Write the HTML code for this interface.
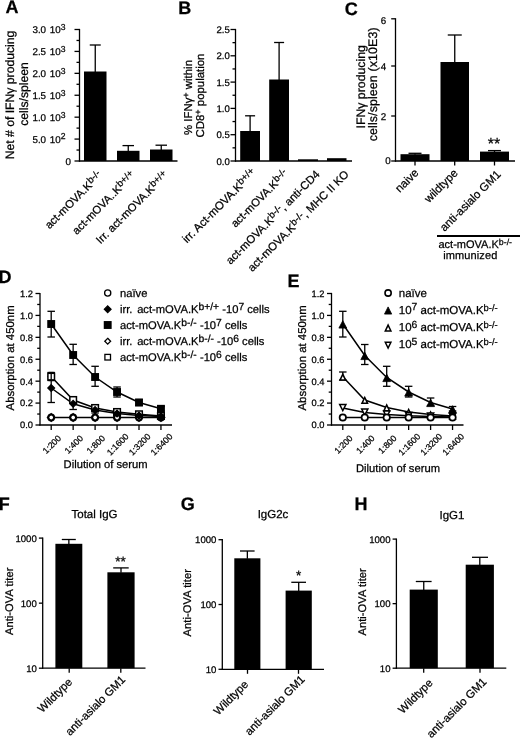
<!DOCTYPE html>
<html><head><meta charset="utf-8"><title>Figure</title>
<style>
html,body{margin:0;padding:0;background:#fff;}
body{width:520px;height:739px;overflow:hidden;font-family:"Liberation Sans",sans-serif;}
svg{display:block;will-change:transform;}
svg text{font-family:"Liberation Sans",sans-serif;fill:#000;text-rendering:geometricPrecision;stroke:#000;stroke-width:0.25px;}
</style></head><body>
<svg width="520" height="739" viewBox="0 0 520 739">
<rect x="0" y="0" width="520" height="739" fill="#fff"/>
<text x="5.50" y="12.70" font-size="18" text-anchor="start" font-weight="bold">A</text>
<line x1="79.50" y1="28.90" x2="79.50" y2="161.60" stroke="#000" stroke-width="1.3"/>
<line x1="78.90" y1="161.00" x2="177.50" y2="161.00" stroke="#000" stroke-width="1.3"/>
<line x1="74.50" y1="161.00" x2="79.50" y2="161.00" stroke="#000" stroke-width="1.3"/>
<line x1="76.50" y1="150.04" x2="79.50" y2="150.04" stroke="#000" stroke-width="1.3"/>
<text x="71.00" y="164.60" font-size="9.8" text-anchor="end">0</text>
<line x1="74.50" y1="139.08" x2="79.50" y2="139.08" stroke="#000" stroke-width="1.3"/>
<line x1="76.50" y1="128.12" x2="79.50" y2="128.12" stroke="#000" stroke-width="1.3"/>
<text x="65.50" y="142.68" font-size="9.8" text-anchor="end" word-spacing="1">5.0 10<tspan font-size="0.88em" dy="-3.2">2</tspan><tspan dy="3.2" font-size="1em">&#8203;</tspan></text>
<line x1="74.50" y1="117.17" x2="79.50" y2="117.17" stroke="#000" stroke-width="1.3"/>
<line x1="76.50" y1="106.21" x2="79.50" y2="106.21" stroke="#000" stroke-width="1.3"/>
<text x="65.50" y="120.77" font-size="9.8" text-anchor="end" word-spacing="1">1.0 10<tspan font-size="0.88em" dy="-3.2">3</tspan><tspan dy="3.2" font-size="1em">&#8203;</tspan></text>
<line x1="74.50" y1="95.25" x2="79.50" y2="95.25" stroke="#000" stroke-width="1.3"/>
<line x1="76.50" y1="84.29" x2="79.50" y2="84.29" stroke="#000" stroke-width="1.3"/>
<text x="65.50" y="98.85" font-size="9.8" text-anchor="end" word-spacing="1">1.5 10<tspan font-size="0.88em" dy="-3.2">3</tspan><tspan dy="3.2" font-size="1em">&#8203;</tspan></text>
<line x1="74.50" y1="73.33" x2="79.50" y2="73.33" stroke="#000" stroke-width="1.3"/>
<line x1="76.50" y1="62.37" x2="79.50" y2="62.37" stroke="#000" stroke-width="1.3"/>
<text x="65.50" y="76.93" font-size="9.8" text-anchor="end" word-spacing="1">2.0 10<tspan font-size="0.88em" dy="-3.2">3</tspan><tspan dy="3.2" font-size="1em">&#8203;</tspan></text>
<line x1="74.50" y1="51.42" x2="79.50" y2="51.42" stroke="#000" stroke-width="1.3"/>
<line x1="76.50" y1="40.46" x2="79.50" y2="40.46" stroke="#000" stroke-width="1.3"/>
<text x="65.50" y="55.02" font-size="9.8" text-anchor="end" word-spacing="1">2.5 10<tspan font-size="0.88em" dy="-3.2">3</tspan><tspan dy="3.2" font-size="1em">&#8203;</tspan></text>
<line x1="74.50" y1="29.50" x2="79.50" y2="29.50" stroke="#000" stroke-width="1.3"/>
<text x="65.50" y="33.10" font-size="9.8" text-anchor="end" word-spacing="1">3.0 10<tspan font-size="0.88em" dy="-3.2">3</tspan><tspan dy="3.2" font-size="1em">&#8203;</tspan></text>
<rect x="84.00" y="71.50" width="22.50" height="89.50" fill="#000"/>
<line x1="95.25" y1="45.00" x2="95.25" y2="72.00" stroke="#000" stroke-width="1.3"/>
<line x1="89.75" y1="45.00" x2="100.75" y2="45.00" stroke="#000" stroke-width="1.3"/>
<rect x="117.00" y="150.80" width="22.50" height="10.20" fill="#000"/>
<line x1="128.25" y1="145.60" x2="128.25" y2="151.30" stroke="#000" stroke-width="1.3"/>
<line x1="122.50" y1="145.60" x2="134.00" y2="145.60" stroke="#000" stroke-width="1.3"/>
<rect x="150.00" y="149.50" width="22.50" height="11.50" fill="#000"/>
<line x1="161.25" y1="145.20" x2="161.25" y2="150.00" stroke="#000" stroke-width="1.3"/>
<line x1="155.50" y1="145.20" x2="167.00" y2="145.20" stroke="#000" stroke-width="1.3"/>
<text x="13.50" y="95.00" font-size="12.2" text-anchor="middle" transform="rotate(-90 13.50 95.00)">Net # of IFN&#947; producing</text>
<text x="27.50" y="94.00" font-size="12.2" text-anchor="middle" transform="rotate(-90 27.50 94.00)">cells/spleen</text>
<text x="103.00" y="176.00" font-size="11.2" text-anchor="end" transform="rotate(-45 103.00 176.00)">act-mOVA.K<tspan font-size="0.86em" dy="-0.314em">b-/-</tspan><tspan dy="0.270em" font-size="1em">&#8203;</tspan></text>
<text x="136.00" y="176.00" font-size="11.2" text-anchor="end" transform="rotate(-45 136.00 176.00)">act-mOVA..K<tspan font-size="0.86em" dy="-0.314em">b+/+</tspan><tspan dy="0.270em" font-size="1em">&#8203;</tspan></text>
<text x="169.00" y="176.00" font-size="11.2" text-anchor="end" transform="rotate(-45 169.00 176.00)">Irr. act-mOVA.K<tspan font-size="0.86em" dy="-0.314em">b+/+</tspan><tspan dy="0.270em" font-size="1em">&#8203;</tspan></text>
<text x="178.30" y="14.10" font-size="18" text-anchor="start" font-weight="bold">B</text>
<line x1="235.50" y1="28.90" x2="235.50" y2="161.60" stroke="#000" stroke-width="1.3"/>
<line x1="234.90" y1="161.00" x2="352.00" y2="161.00" stroke="#000" stroke-width="1.3"/>
<line x1="230.50" y1="161.00" x2="235.50" y2="161.00" stroke="#000" stroke-width="1.3"/>
<line x1="232.50" y1="147.85" x2="235.50" y2="147.85" stroke="#000" stroke-width="1.3"/>
<text x="229.80" y="164.50" font-size="9.6" text-anchor="end">0.0</text>
<line x1="230.50" y1="134.70" x2="235.50" y2="134.70" stroke="#000" stroke-width="1.3"/>
<line x1="232.50" y1="121.55" x2="235.50" y2="121.55" stroke="#000" stroke-width="1.3"/>
<text x="229.80" y="138.20" font-size="9.6" text-anchor="end">0.5</text>
<line x1="230.50" y1="108.40" x2="235.50" y2="108.40" stroke="#000" stroke-width="1.3"/>
<line x1="232.50" y1="95.25" x2="235.50" y2="95.25" stroke="#000" stroke-width="1.3"/>
<text x="229.80" y="111.90" font-size="9.6" text-anchor="end">1.0</text>
<line x1="230.50" y1="82.10" x2="235.50" y2="82.10" stroke="#000" stroke-width="1.3"/>
<line x1="232.50" y1="68.95" x2="235.50" y2="68.95" stroke="#000" stroke-width="1.3"/>
<text x="229.80" y="85.60" font-size="9.6" text-anchor="end">1.5</text>
<line x1="230.50" y1="55.80" x2="235.50" y2="55.80" stroke="#000" stroke-width="1.3"/>
<line x1="232.50" y1="42.65" x2="235.50" y2="42.65" stroke="#000" stroke-width="1.3"/>
<text x="229.80" y="59.30" font-size="9.6" text-anchor="end">2.0</text>
<line x1="230.50" y1="29.50" x2="235.50" y2="29.50" stroke="#000" stroke-width="1.3"/>
<text x="229.80" y="33.00" font-size="9.6" text-anchor="end">2.5</text>
<rect x="240.20" y="131.00" width="19.80" height="30.00" fill="#000"/>
<line x1="250.10" y1="115.80" x2="250.10" y2="131.50" stroke="#000" stroke-width="1.3"/>
<line x1="245.10" y1="115.80" x2="255.10" y2="115.80" stroke="#000" stroke-width="1.3"/>
<rect x="269.20" y="79.50" width="19.80" height="81.50" fill="#000"/>
<line x1="279.10" y1="42.50" x2="279.10" y2="80.00" stroke="#000" stroke-width="1.3"/>
<line x1="274.10" y1="42.50" x2="284.10" y2="42.50" stroke="#000" stroke-width="1.3"/>
<rect x="298.00" y="159.30" width="20.00" height="1.70" fill="#000"/>
<rect x="327.00" y="158.20" width="19.50" height="2.80" fill="#000"/>
<text x="191.80" y="97.50" font-size="11.4" text-anchor="middle" transform="rotate(-90 191.80 97.50)">% IFN&#947;<tspan font-size="0.8em" dy="-0.338em">+</tspan><tspan dy="0.270em" font-size="1em">&#8203;</tspan> within</text>
<text x="204.20" y="95.50" font-size="11.4" text-anchor="middle" transform="rotate(-90 204.20 95.50)">CD8<tspan font-size="0.8em" dy="-0.338em">+</tspan><tspan dy="0.270em" font-size="1em">&#8203;</tspan> population</text>
<text x="257.00" y="173.50" font-size="11.45" text-anchor="end" transform="rotate(-45 257.00 173.50)">irr. Act-mOVA.K<tspan font-size="0.86em" dy="-0.314em">b+/+</tspan><tspan dy="0.270em" font-size="1em">&#8203;</tspan></text>
<text x="289.00" y="174.50" font-size="11.2" text-anchor="end" transform="rotate(-45 289.00 174.50)">act-mOVA.K<tspan font-size="0.86em" dy="-0.314em">b-/-</tspan><tspan dy="0.270em" font-size="1em">&#8203;</tspan></text>
<text x="320.50" y="175.00" font-size="11.3" text-anchor="end" transform="rotate(-45 320.50 175.00)">act-mOVA.K<tspan font-size="0.86em" dy="-0.314em">b-/-</tspan><tspan dy="0.270em" font-size="1em">&#8203;</tspan>, anti-CD4</text>
<text x="349.50" y="175.00" font-size="11.3" text-anchor="end" transform="rotate(-45 349.50 175.00)">act-mOVA.K<tspan font-size="0.86em" dy="-0.314em">b-/-</tspan><tspan dy="0.270em" font-size="1em">&#8203;</tspan>, MHC II KO</text>
<text x="344.80" y="14.80" font-size="18" text-anchor="start" font-weight="bold">C</text>
<line x1="395.50" y1="18.20" x2="395.50" y2="161.60" stroke="#000" stroke-width="1.3"/>
<line x1="394.90" y1="161.00" x2="515.00" y2="161.00" stroke="#000" stroke-width="1.3"/>
<line x1="391.20" y1="161.00" x2="395.50" y2="161.00" stroke="#000" stroke-width="1.3"/>
<text x="390.60" y="163.50" font-size="9.8" text-anchor="end">0</text>
<line x1="391.20" y1="116.00" x2="395.50" y2="116.00" stroke="#000" stroke-width="1.3"/>
<text x="386.30" y="119.50" font-size="9.8" text-anchor="end">2</text>
<line x1="391.20" y1="66.00" x2="395.50" y2="66.00" stroke="#000" stroke-width="1.3"/>
<text x="386.30" y="70.00" font-size="9.8" text-anchor="end">4</text>
<line x1="391.20" y1="18.80" x2="395.50" y2="18.80" stroke="#000" stroke-width="1.3"/>
<text x="386.30" y="24.40" font-size="9.8" text-anchor="end">6</text>
<line x1="415.00" y1="161.00" x2="415.00" y2="165.50" stroke="#000" stroke-width="1.3"/>
<line x1="454.70" y1="161.00" x2="454.70" y2="165.50" stroke="#000" stroke-width="1.3"/>
<line x1="494.50" y1="161.00" x2="494.50" y2="165.50" stroke="#000" stroke-width="1.3"/>
<rect x="400.50" y="154.20" width="29.00" height="6.80" fill="#000"/>
<line x1="415.00" y1="153.30" x2="415.00" y2="154.70" stroke="#000" stroke-width="1.3"/>
<line x1="408.50" y1="153.30" x2="421.50" y2="153.30" stroke="#000" stroke-width="1.3"/>
<rect x="440.50" y="62.00" width="28.50" height="99.00" fill="#000"/>
<line x1="454.75" y1="35.00" x2="454.75" y2="62.50" stroke="#000" stroke-width="1.3"/>
<line x1="447.75" y1="35.00" x2="461.75" y2="35.00" stroke="#000" stroke-width="1.3"/>
<rect x="480.00" y="151.60" width="29.00" height="9.40" fill="#000"/>
<line x1="494.50" y1="150.60" x2="494.50" y2="152.10" stroke="#000" stroke-width="1.3"/>
<line x1="488.00" y1="150.60" x2="501.00" y2="150.60" stroke="#000" stroke-width="1.3"/>
<text x="494.00" y="149.30" font-size="16" text-anchor="middle">**</text>
<text x="365.20" y="86.80" font-size="12.3" text-anchor="middle" transform="rotate(-90 365.20 86.80)">IFN&#947; producing</text>
<text x="376.60" y="84.30" font-size="12.4" text-anchor="middle" transform="rotate(-90 376.60 84.30)" letter-spacing="0.12">cells/spleen (x10E3)</text>
<text x="419.30" y="173.50" font-size="11.5" text-anchor="end" transform="rotate(-45 419.30 173.50)">naive</text>
<text x="458.50" y="173.80" font-size="11.5" text-anchor="end" transform="rotate(-45 458.50 173.80)">wildtype</text>
<text x="501.50" y="175.00" font-size="11.5" text-anchor="end" transform="rotate(-45 501.50 175.00)">anti-asialo GM1</text>
<line x1="437.00" y1="236.10" x2="520.00" y2="236.10" stroke="#000" stroke-width="2"/>
<text x="438.50" y="247.90" font-size="11" text-anchor="start">act-mOVA.K<tspan font-size="0.8em" dy="-0.338em">b-/-</tspan><tspan dy="0.270em" font-size="1em">&#8203;</tspan></text>
<text x="443.30" y="258.60" font-size="11" text-anchor="start" letter-spacing="0.1">immunized</text>
<text x="-1.50" y="283.00" font-size="18" text-anchor="start" font-weight="bold">D</text>
<line x1="40.00" y1="292.90" x2="40.00" y2="425.60" stroke="#000" stroke-width="1.3"/>
<line x1="39.40" y1="425.00" x2="172.00" y2="425.00" stroke="#000" stroke-width="1.3"/>
<line x1="35.50" y1="425.00" x2="40.00" y2="425.00" stroke="#000" stroke-width="1.3"/>
<line x1="37.20" y1="414.04" x2="40.00" y2="414.04" stroke="#000" stroke-width="1.3"/>
<text x="33.00" y="428.40" font-size="9.3" text-anchor="end">0.0</text>
<line x1="35.50" y1="403.08" x2="40.00" y2="403.08" stroke="#000" stroke-width="1.3"/>
<line x1="37.20" y1="392.12" x2="40.00" y2="392.12" stroke="#000" stroke-width="1.3"/>
<text x="33.00" y="406.48" font-size="9.3" text-anchor="end">0.2</text>
<line x1="35.50" y1="381.17" x2="40.00" y2="381.17" stroke="#000" stroke-width="1.3"/>
<line x1="37.20" y1="370.21" x2="40.00" y2="370.21" stroke="#000" stroke-width="1.3"/>
<text x="33.00" y="384.57" font-size="9.3" text-anchor="end">0.4</text>
<line x1="35.50" y1="359.25" x2="40.00" y2="359.25" stroke="#000" stroke-width="1.3"/>
<line x1="37.20" y1="348.29" x2="40.00" y2="348.29" stroke="#000" stroke-width="1.3"/>
<text x="33.00" y="362.65" font-size="9.3" text-anchor="end">0.6</text>
<line x1="35.50" y1="337.33" x2="40.00" y2="337.33" stroke="#000" stroke-width="1.3"/>
<line x1="37.20" y1="326.38" x2="40.00" y2="326.38" stroke="#000" stroke-width="1.3"/>
<text x="33.00" y="340.73" font-size="9.3" text-anchor="end">0.8</text>
<line x1="35.50" y1="315.42" x2="40.00" y2="315.42" stroke="#000" stroke-width="1.3"/>
<line x1="37.20" y1="304.46" x2="40.00" y2="304.46" stroke="#000" stroke-width="1.3"/>
<text x="33.00" y="318.82" font-size="9.3" text-anchor="end">1.0</text>
<line x1="35.50" y1="293.50" x2="40.00" y2="293.50" stroke="#000" stroke-width="1.3"/>
<text x="33.00" y="296.90" font-size="9.3" text-anchor="end">1.2</text>
<line x1="51.20" y1="425.00" x2="51.20" y2="430.00" stroke="#000" stroke-width="1.3"/>
<text x="54.00" y="446.50" font-size="8.7" text-anchor="middle" transform="rotate(-45 54.00 446.50)">1:200</text>
<line x1="73.15" y1="425.00" x2="73.15" y2="430.00" stroke="#000" stroke-width="1.3"/>
<text x="75.95" y="446.50" font-size="8.7" text-anchor="middle" transform="rotate(-45 75.95 446.50)">1:400</text>
<line x1="95.10" y1="425.00" x2="95.10" y2="430.00" stroke="#000" stroke-width="1.3"/>
<text x="97.90" y="446.50" font-size="8.7" text-anchor="middle" transform="rotate(-45 97.90 446.50)">1:800</text>
<line x1="117.05" y1="425.00" x2="117.05" y2="430.00" stroke="#000" stroke-width="1.3"/>
<text x="119.85" y="446.50" font-size="8.7" text-anchor="middle" transform="rotate(-45 119.85 446.50)">1:1600</text>
<line x1="139.00" y1="425.00" x2="139.00" y2="430.00" stroke="#000" stroke-width="1.3"/>
<text x="141.80" y="446.50" font-size="8.7" text-anchor="middle" transform="rotate(-45 141.80 446.50)">1:3200</text>
<line x1="160.95" y1="425.00" x2="160.95" y2="430.00" stroke="#000" stroke-width="1.3"/>
<text x="163.75" y="446.50" font-size="8.7" text-anchor="middle" transform="rotate(-45 163.75 446.50)">1:6400</text>
<text x="13.70" y="357.90" font-size="11.4" text-anchor="middle" transform="rotate(-90 13.70 357.90)">Absorption at 450nm</text>
<text x="105.60" y="468.30" font-size="11.2" text-anchor="middle">Dilution of serum</text>
<line x1="51.20" y1="311.30" x2="51.20" y2="337.00" stroke="#000" stroke-width="1.3"/>
<line x1="47.45" y1="311.30" x2="54.95" y2="311.30" stroke="#000" stroke-width="1.3"/>
<line x1="47.45" y1="337.00" x2="54.95" y2="337.00" stroke="#000" stroke-width="1.3"/>
<line x1="73.15" y1="344.30" x2="73.15" y2="364.50" stroke="#000" stroke-width="1.3"/>
<line x1="69.40" y1="344.30" x2="76.90" y2="344.30" stroke="#000" stroke-width="1.3"/>
<line x1="69.40" y1="364.50" x2="76.90" y2="364.50" stroke="#000" stroke-width="1.3"/>
<line x1="95.10" y1="366.30" x2="95.10" y2="386.30" stroke="#000" stroke-width="1.3"/>
<line x1="91.35" y1="366.30" x2="98.85" y2="366.30" stroke="#000" stroke-width="1.3"/>
<line x1="91.35" y1="386.30" x2="98.85" y2="386.30" stroke="#000" stroke-width="1.3"/>
<line x1="117.05" y1="387.00" x2="117.05" y2="397.00" stroke="#000" stroke-width="1.3"/>
<line x1="113.30" y1="387.00" x2="120.80" y2="387.00" stroke="#000" stroke-width="1.3"/>
<line x1="113.30" y1="397.00" x2="120.80" y2="397.00" stroke="#000" stroke-width="1.3"/>
<line x1="139.00" y1="399.50" x2="139.00" y2="405.50" stroke="#000" stroke-width="1.3"/>
<line x1="135.25" y1="399.50" x2="142.75" y2="399.50" stroke="#000" stroke-width="1.3"/>
<line x1="135.25" y1="405.50" x2="142.75" y2="405.50" stroke="#000" stroke-width="1.3"/>
<line x1="160.95" y1="406.50" x2="160.95" y2="411.00" stroke="#000" stroke-width="1.3"/>
<line x1="157.20" y1="406.50" x2="164.70" y2="406.50" stroke="#000" stroke-width="1.3"/>
<line x1="157.20" y1="411.00" x2="164.70" y2="411.00" stroke="#000" stroke-width="1.3"/>
<line x1="51.20" y1="376.50" x2="51.20" y2="402.50" stroke="#000" stroke-width="1.3"/>
<line x1="47.45" y1="376.50" x2="54.95" y2="376.50" stroke="#000" stroke-width="1.3"/>
<line x1="47.45" y1="402.50" x2="54.95" y2="402.50" stroke="#000" stroke-width="1.3"/>
<line x1="73.15" y1="398.80" x2="73.15" y2="409.50" stroke="#000" stroke-width="1.3"/>
<line x1="69.40" y1="398.80" x2="76.90" y2="398.80" stroke="#000" stroke-width="1.3"/>
<line x1="69.40" y1="409.50" x2="76.90" y2="409.50" stroke="#000" stroke-width="1.3"/>
<line x1="95.10" y1="407.00" x2="95.10" y2="413.00" stroke="#000" stroke-width="1.3"/>
<line x1="91.35" y1="407.00" x2="98.85" y2="407.00" stroke="#000" stroke-width="1.3"/>
<line x1="91.35" y1="413.00" x2="98.85" y2="413.00" stroke="#000" stroke-width="1.3"/>
<line x1="51.20" y1="372.50" x2="51.20" y2="380.50" stroke="#000" stroke-width="1.3"/>
<line x1="47.45" y1="372.50" x2="54.95" y2="372.50" stroke="#000" stroke-width="1.3"/>
<line x1="47.45" y1="380.50" x2="54.95" y2="380.50" stroke="#000" stroke-width="1.3"/>
<polyline points="51.20,417.50 73.15,417.50 95.10,417.50 117.05,417.50 139.00,417.50 160.95,417.50" fill="none" stroke="#000" stroke-width="1.5"/>
<polyline points="51.20,388.00 73.15,403.80 95.10,410.00 117.05,413.50 139.00,415.50 160.95,416.50" fill="none" stroke="#000" stroke-width="1.5"/>
<polyline points="51.20,376.60 73.15,400.00 95.10,408.00 117.05,412.00 139.00,414.30 160.95,416.00" fill="none" stroke="#000" stroke-width="1.5"/>
<polyline points="51.20,324.00 73.15,355.00 95.10,377.00 117.05,392.00 139.00,402.50 160.95,408.80" fill="none" stroke="#000" stroke-width="1.5"/>
<rect x="47.90" y="373.30" width="6.6" height="6.6" fill="#fff" stroke="#000" stroke-width="1.5"/>
<rect x="69.85" y="396.70" width="6.6" height="6.6" fill="#fff" stroke="#000" stroke-width="1.5"/>
<rect x="91.80" y="404.70" width="6.6" height="6.6" fill="#fff" stroke="#000" stroke-width="1.5"/>
<rect x="113.75" y="408.70" width="6.6" height="6.6" fill="#fff" stroke="#000" stroke-width="1.5"/>
<rect x="135.70" y="411.00" width="6.6" height="6.6" fill="#fff" stroke="#000" stroke-width="1.5"/>
<rect x="157.65" y="412.70" width="6.6" height="6.6" fill="#fff" stroke="#000" stroke-width="1.5"/>
<line x1="51.20" y1="372.50" x2="51.20" y2="380.50" stroke="#000" stroke-width="1.3"/>
<line x1="48.70" y1="372.50" x2="53.70" y2="372.50" stroke="#000" stroke-width="1.3"/>
<line x1="48.70" y1="380.50" x2="53.70" y2="380.50" stroke="#000" stroke-width="1.3"/>
<polygon points="51.20,413.80 54.90,417.50 51.20,421.20 47.50,417.50" fill="#fff" stroke="#000" stroke-width="1.4"/>
<polygon points="73.15,413.80 76.85,417.50 73.15,421.20 69.45,417.50" fill="#fff" stroke="#000" stroke-width="1.4"/>
<polygon points="95.10,413.80 98.80,417.50 95.10,421.20 91.40,417.50" fill="#fff" stroke="#000" stroke-width="1.4"/>
<polygon points="117.05,413.80 120.75,417.50 117.05,421.20 113.35,417.50" fill="#fff" stroke="#000" stroke-width="1.4"/>
<polygon points="139.00,413.80 142.70,417.50 139.00,421.20 135.30,417.50" fill="#fff" stroke="#000" stroke-width="1.4"/>
<polygon points="160.95,413.80 164.65,417.50 160.95,421.20 157.25,417.50" fill="#fff" stroke="#000" stroke-width="1.4"/>
<rect x="47.25" y="320.05" width="7.9" height="7.9" fill="#000"/>
<rect x="69.20" y="351.05" width="7.9" height="7.9" fill="#000"/>
<rect x="91.15" y="373.05" width="7.9" height="7.9" fill="#000"/>
<rect x="113.10" y="388.05" width="7.9" height="7.9" fill="#000"/>
<rect x="135.05" y="398.55" width="7.9" height="7.9" fill="#000"/>
<rect x="157.00" y="404.85" width="7.9" height="7.9" fill="#000"/>
<polygon points="51.20,384.60 54.60,388.00 51.20,391.40 47.80,388.00" fill="#000" stroke="#000" stroke-width="1.2"/>
<polygon points="73.15,400.40 76.55,403.80 73.15,407.20 69.75,403.80" fill="#000" stroke="#000" stroke-width="1.2"/>
<polygon points="95.10,406.60 98.50,410.00 95.10,413.40 91.70,410.00" fill="#000" stroke="#000" stroke-width="1.2"/>
<polygon points="117.05,410.10 120.45,413.50 117.05,416.90 113.65,413.50" fill="#000" stroke="#000" stroke-width="1.2"/>
<polygon points="139.00,412.10 142.40,415.50 139.00,418.90 135.60,415.50" fill="#000" stroke="#000" stroke-width="1.2"/>
<polygon points="160.95,413.10 164.35,416.50 160.95,419.90 157.55,416.50" fill="#000" stroke="#000" stroke-width="1.2"/>
<circle cx="51.20" cy="417.50" r="2.9" fill="none" stroke="#000" stroke-width="2.0"/>
<circle cx="73.15" cy="417.50" r="2.9" fill="none" stroke="#000" stroke-width="2.0"/>
<circle cx="95.10" cy="417.50" r="2.9" fill="none" stroke="#000" stroke-width="2.0"/>
<circle cx="117.05" cy="417.50" r="2.9" fill="none" stroke="#000" stroke-width="2.0"/>
<circle cx="139.00" cy="417.50" r="2.9" fill="none" stroke="#000" stroke-width="2.0"/>
<circle cx="160.95" cy="417.50" r="2.9" fill="none" stroke="#000" stroke-width="2.0"/>
<circle cx="107.70" cy="293.00" r="3.1" fill="#fff" stroke="#000" stroke-width="1.3"/>
<text x="120.00" y="296.60" font-size="11.2" text-anchor="start">na&#239;ve</text>
<polygon points="107.70,305.80 111.10,309.20 107.70,312.60 104.30,309.20" fill="#000" stroke="#000" stroke-width="1.2"/>
<text x="120.00" y="313.00" font-size="11.2" text-anchor="start"><tspan word-spacing="1.6">irr. </tspan>act-mOVA.K<tspan font-size="0.92em" dy="-0.304em">b+/+</tspan><tspan dy="0.280em" font-size="1em">&#8203;</tspan> -10<tspan font-size="0.92em" dy="-0.304em">7</tspan><tspan dy="0.280em" font-size="1em">&#8203;</tspan> cells</text>
<rect x="103.75" y="321.05" width="7.9" height="7.9" fill="#000"/>
<text x="120.00" y="328.80" font-size="11.2" text-anchor="start">act-mOVA.K<tspan font-size="0.92em" dy="-0.304em">b-/-</tspan><tspan dy="0.280em" font-size="1em">&#8203;</tspan> -10<tspan font-size="0.92em" dy="-0.304em">7</tspan><tspan dy="0.280em" font-size="1em">&#8203;</tspan> cells</text>
<polygon points="107.70,338.30 110.60,341.20 107.70,344.10 104.80,341.20" fill="#fff" stroke="#000" stroke-width="1.3"/>
<text x="120.00" y="345.00" font-size="11.2" text-anchor="start"><tspan word-spacing="1.6">irr. </tspan>act-mOVA.K<tspan font-size="0.92em" dy="-0.304em">b-/-</tspan><tspan dy="0.280em" font-size="1em">&#8203;</tspan> -10<tspan font-size="0.92em" dy="-0.304em">6</tspan><tspan dy="0.280em" font-size="1em">&#8203;</tspan> cells</text>
<rect x="104.90" y="354.40" width="5.6" height="5.6" fill="#fff" stroke="#000" stroke-width="1.3"/>
<text x="120.00" y="361.20" font-size="11.2" text-anchor="start">act-mOVA.K<tspan font-size="0.92em" dy="-0.304em">b-/-</tspan><tspan dy="0.280em" font-size="1em">&#8203;</tspan> -10<tspan font-size="0.92em" dy="-0.304em">6</tspan><tspan dy="0.280em" font-size="1em">&#8203;</tspan> cells</text>
<text x="287.50" y="287.00" font-size="18" text-anchor="start" font-weight="bold">E</text>
<line x1="331.50" y1="292.90" x2="331.50" y2="425.60" stroke="#000" stroke-width="1.3"/>
<line x1="330.90" y1="425.00" x2="463.50" y2="425.00" stroke="#000" stroke-width="1.3"/>
<line x1="327.00" y1="425.00" x2="331.50" y2="425.00" stroke="#000" stroke-width="1.3"/>
<line x1="328.70" y1="414.04" x2="331.50" y2="414.04" stroke="#000" stroke-width="1.3"/>
<text x="324.50" y="428.40" font-size="9.3" text-anchor="end">0.0</text>
<line x1="327.00" y1="403.08" x2="331.50" y2="403.08" stroke="#000" stroke-width="1.3"/>
<line x1="328.70" y1="392.12" x2="331.50" y2="392.12" stroke="#000" stroke-width="1.3"/>
<text x="324.50" y="406.48" font-size="9.3" text-anchor="end">0.2</text>
<line x1="327.00" y1="381.17" x2="331.50" y2="381.17" stroke="#000" stroke-width="1.3"/>
<line x1="328.70" y1="370.21" x2="331.50" y2="370.21" stroke="#000" stroke-width="1.3"/>
<text x="324.50" y="384.57" font-size="9.3" text-anchor="end">0.4</text>
<line x1="327.00" y1="359.25" x2="331.50" y2="359.25" stroke="#000" stroke-width="1.3"/>
<line x1="328.70" y1="348.29" x2="331.50" y2="348.29" stroke="#000" stroke-width="1.3"/>
<text x="324.50" y="362.65" font-size="9.3" text-anchor="end">0.6</text>
<line x1="327.00" y1="337.33" x2="331.50" y2="337.33" stroke="#000" stroke-width="1.3"/>
<line x1="328.70" y1="326.38" x2="331.50" y2="326.38" stroke="#000" stroke-width="1.3"/>
<text x="324.50" y="340.73" font-size="9.3" text-anchor="end">0.8</text>
<line x1="327.00" y1="315.42" x2="331.50" y2="315.42" stroke="#000" stroke-width="1.3"/>
<line x1="328.70" y1="304.46" x2="331.50" y2="304.46" stroke="#000" stroke-width="1.3"/>
<text x="324.50" y="318.82" font-size="9.3" text-anchor="end">1.0</text>
<line x1="327.00" y1="293.50" x2="331.50" y2="293.50" stroke="#000" stroke-width="1.3"/>
<text x="324.50" y="296.90" font-size="9.3" text-anchor="end">1.2</text>
<line x1="342.80" y1="425.00" x2="342.80" y2="430.00" stroke="#000" stroke-width="1.3"/>
<text x="345.60" y="446.50" font-size="8.7" text-anchor="middle" transform="rotate(-45 345.60 446.50)">1:200</text>
<line x1="364.75" y1="425.00" x2="364.75" y2="430.00" stroke="#000" stroke-width="1.3"/>
<text x="367.55" y="446.50" font-size="8.7" text-anchor="middle" transform="rotate(-45 367.55 446.50)">1:400</text>
<line x1="386.70" y1="425.00" x2="386.70" y2="430.00" stroke="#000" stroke-width="1.3"/>
<text x="389.50" y="446.50" font-size="8.7" text-anchor="middle" transform="rotate(-45 389.50 446.50)">1:800</text>
<line x1="408.65" y1="425.00" x2="408.65" y2="430.00" stroke="#000" stroke-width="1.3"/>
<text x="411.45" y="446.50" font-size="8.7" text-anchor="middle" transform="rotate(-45 411.45 446.50)">1:1600</text>
<line x1="430.60" y1="425.00" x2="430.60" y2="430.00" stroke="#000" stroke-width="1.3"/>
<text x="433.40" y="446.50" font-size="8.7" text-anchor="middle" transform="rotate(-45 433.40 446.50)">1:3200</text>
<line x1="452.55" y1="425.00" x2="452.55" y2="430.00" stroke="#000" stroke-width="1.3"/>
<text x="455.35" y="446.50" font-size="8.7" text-anchor="middle" transform="rotate(-45 455.35 446.50)">1:6400</text>
<text x="305.70" y="357.90" font-size="11.4" text-anchor="middle" transform="rotate(-90 305.70 357.90)">Absorption at 450nm</text>
<text x="398.00" y="472.40" font-size="11.2" text-anchor="middle">Dilution of serum</text>
<line x1="342.80" y1="311.30" x2="342.80" y2="337.00" stroke="#000" stroke-width="1.3"/>
<line x1="339.05" y1="311.30" x2="346.55" y2="311.30" stroke="#000" stroke-width="1.3"/>
<line x1="339.05" y1="337.00" x2="346.55" y2="337.00" stroke="#000" stroke-width="1.3"/>
<line x1="364.75" y1="344.50" x2="364.75" y2="364.50" stroke="#000" stroke-width="1.3"/>
<line x1="361.00" y1="344.50" x2="368.50" y2="344.50" stroke="#000" stroke-width="1.3"/>
<line x1="361.00" y1="364.50" x2="368.50" y2="364.50" stroke="#000" stroke-width="1.3"/>
<line x1="386.70" y1="366.30" x2="386.70" y2="386.30" stroke="#000" stroke-width="1.3"/>
<line x1="382.95" y1="366.30" x2="390.45" y2="366.30" stroke="#000" stroke-width="1.3"/>
<line x1="382.95" y1="386.30" x2="390.45" y2="386.30" stroke="#000" stroke-width="1.3"/>
<line x1="408.65" y1="386.30" x2="408.65" y2="397.00" stroke="#000" stroke-width="1.3"/>
<line x1="404.90" y1="386.30" x2="412.40" y2="386.30" stroke="#000" stroke-width="1.3"/>
<line x1="404.90" y1="397.00" x2="412.40" y2="397.00" stroke="#000" stroke-width="1.3"/>
<line x1="430.60" y1="398.00" x2="430.60" y2="405.50" stroke="#000" stroke-width="1.3"/>
<line x1="426.85" y1="398.00" x2="434.35" y2="398.00" stroke="#000" stroke-width="1.3"/>
<line x1="426.85" y1="405.50" x2="434.35" y2="405.50" stroke="#000" stroke-width="1.3"/>
<line x1="452.55" y1="406.50" x2="452.55" y2="411.00" stroke="#000" stroke-width="1.3"/>
<line x1="448.80" y1="406.50" x2="456.30" y2="406.50" stroke="#000" stroke-width="1.3"/>
<line x1="448.80" y1="411.00" x2="456.30" y2="411.00" stroke="#000" stroke-width="1.3"/>
<line x1="342.80" y1="372.00" x2="342.80" y2="380.00" stroke="#000" stroke-width="1.3"/>
<line x1="339.05" y1="372.00" x2="346.55" y2="372.00" stroke="#000" stroke-width="1.3"/>
<line x1="339.05" y1="380.00" x2="346.55" y2="380.00" stroke="#000" stroke-width="1.3"/>
<polyline points="342.80,417.50 364.75,417.50 386.70,417.50 408.65,417.50 430.60,417.50 452.55,417.50" fill="none" stroke="#000" stroke-width="1.5"/>
<polyline points="342.80,408.00 364.75,412.50 386.70,414.50 408.65,415.80 430.60,416.50 452.55,417.00" fill="none" stroke="#000" stroke-width="1.5"/>
<polyline points="342.80,376.80 364.75,400.00 386.70,407.50 408.65,412.00 430.60,414.50 452.55,416.00" fill="none" stroke="#000" stroke-width="1.5"/>
<polyline points="342.80,324.00 364.75,355.50 386.70,377.50 408.65,392.00 430.60,402.50 452.55,409.00" fill="none" stroke="#000" stroke-width="1.5"/>
<polygon points="340.00,380.10 345.60,380.10 342.80,374.30" fill="#fff" stroke="#000" stroke-width="1.5" stroke-linejoin="miter"/>
<polygon points="361.95,403.30 367.55,403.30 364.75,397.50" fill="#fff" stroke="#000" stroke-width="1.5" stroke-linejoin="miter"/>
<polygon points="383.90,410.80 389.50,410.80 386.70,405.00" fill="#fff" stroke="#000" stroke-width="1.5" stroke-linejoin="miter"/>
<polygon points="405.85,415.30 411.45,415.30 408.65,409.50" fill="#fff" stroke="#000" stroke-width="1.5" stroke-linejoin="miter"/>
<polygon points="427.80,417.80 433.40,417.80 430.60,412.00" fill="#fff" stroke="#000" stroke-width="1.5" stroke-linejoin="miter"/>
<polygon points="449.75,419.30 455.35,419.30 452.55,413.50" fill="#fff" stroke="#000" stroke-width="1.5" stroke-linejoin="miter"/>
<polygon points="339.70,404.60 345.90,404.60 342.80,410.60" fill="#fff" stroke="#000" stroke-width="1.5" stroke-linejoin="miter"/>
<polygon points="361.65,409.10 367.85,409.10 364.75,415.10" fill="#fff" stroke="#000" stroke-width="1.5" stroke-linejoin="miter"/>
<polygon points="383.60,411.10 389.80,411.10 386.70,417.10" fill="#fff" stroke="#000" stroke-width="1.5" stroke-linejoin="miter"/>
<polygon points="405.55,412.40 411.75,412.40 408.65,418.40" fill="#fff" stroke="#000" stroke-width="1.5" stroke-linejoin="miter"/>
<polygon points="427.50,413.10 433.70,413.10 430.60,419.10" fill="#fff" stroke="#000" stroke-width="1.5" stroke-linejoin="miter"/>
<polygon points="449.45,413.60 455.65,413.60 452.55,419.60" fill="#fff" stroke="#000" stroke-width="1.5" stroke-linejoin="miter"/>
<polygon points="338.90,328.10 346.70,328.10 342.80,320.70" fill="#000" stroke="#000" stroke-width="0.8" stroke-linejoin="miter"/>
<polygon points="360.85,359.60 368.65,359.60 364.75,352.20" fill="#000" stroke="#000" stroke-width="0.8" stroke-linejoin="miter"/>
<polygon points="382.80,381.60 390.60,381.60 386.70,374.20" fill="#000" stroke="#000" stroke-width="0.8" stroke-linejoin="miter"/>
<polygon points="404.75,396.10 412.55,396.10 408.65,388.70" fill="#000" stroke="#000" stroke-width="0.8" stroke-linejoin="miter"/>
<polygon points="426.70,406.60 434.50,406.60 430.60,399.20" fill="#000" stroke="#000" stroke-width="0.8" stroke-linejoin="miter"/>
<polygon points="448.65,413.10 456.45,413.10 452.55,405.70" fill="#000" stroke="#000" stroke-width="0.8" stroke-linejoin="miter"/>
<circle cx="342.80" cy="417.50" r="3.2" fill="#fff" stroke="#000" stroke-width="1.7"/>
<circle cx="364.75" cy="417.50" r="3.2" fill="#fff" stroke="#000" stroke-width="1.7"/>
<circle cx="386.70" cy="417.50" r="3.2" fill="#fff" stroke="#000" stroke-width="1.7"/>
<circle cx="408.65" cy="417.50" r="3.2" fill="#fff" stroke="#000" stroke-width="1.7"/>
<circle cx="430.60" cy="417.50" r="3.2" fill="#fff" stroke="#000" stroke-width="1.7"/>
<circle cx="452.55" cy="417.50" r="3.2" fill="#fff" stroke="#000" stroke-width="1.7"/>
<circle cx="388.10" cy="293.00" r="3.1" fill="#fff" stroke="#000" stroke-width="1.6"/>
<text x="398.80" y="296.60" font-size="11.5" text-anchor="start">na&#239;ve</text>
<polygon points="384.50,314.10 391.70,314.10 388.10,306.90" fill="#000" stroke="#000" stroke-width="0.8" stroke-linejoin="miter"/>
<text x="398.80" y="313.80" font-size="11.5" text-anchor="start">10<tspan font-size="0.9em" dy="-0.333em">7</tspan><tspan dy="0.300em" font-size="1em">&#8203;</tspan> act-mOVA.K<tspan font-size="0.82em" dy="-0.341em">b-/-</tspan><tspan dy="0.280em" font-size="1em">&#8203;</tspan></text>
<polygon points="385.30,330.90 390.90,330.90 388.10,325.10" fill="#fff" stroke="#000" stroke-width="1.5" stroke-linejoin="miter"/>
<text x="398.80" y="331.30" font-size="11.5" text-anchor="start">10<tspan font-size="0.9em" dy="-0.333em">6</tspan><tspan dy="0.300em" font-size="1em">&#8203;</tspan> act-mOVA.K<tspan font-size="0.82em" dy="-0.341em">b-/-</tspan><tspan dy="0.280em" font-size="1em">&#8203;</tspan></text>
<polygon points="385.30,342.30 390.90,342.30 388.10,348.10" fill="#fff" stroke="#000" stroke-width="1.5" stroke-linejoin="miter"/>
<text x="398.80" y="348.40" font-size="11.5" text-anchor="start">10<tspan font-size="0.9em" dy="-0.333em">5</tspan><tspan dy="0.300em" font-size="1em">&#8203;</tspan> act-mOVA.K<tspan font-size="0.82em" dy="-0.341em">b-/-</tspan><tspan dy="0.280em" font-size="1em">&#8203;</tspan></text>
<text x="-1.30" y="509.80" font-size="18" text-anchor="start" font-weight="bold">F</text>
<line x1="42.70" y1="537.50" x2="42.70" y2="668.80" stroke="#000" stroke-width="1.3"/>
<line x1="42.10" y1="668.20" x2="145.50" y2="668.20" stroke="#000" stroke-width="1.3"/>
<line x1="38.90" y1="538.10" x2="42.70" y2="538.10" stroke="#000" stroke-width="1.3"/>
<text x="36.80" y="541.50" font-size="9.6" text-anchor="end">1000</text>
<line x1="38.90" y1="603.15" x2="42.70" y2="603.15" stroke="#000" stroke-width="1.3"/>
<text x="36.80" y="606.55" font-size="9.6" text-anchor="end">100</text>
<line x1="38.90" y1="668.20" x2="42.70" y2="668.20" stroke="#000" stroke-width="1.3"/>
<text x="36.80" y="671.60" font-size="9.6" text-anchor="end">10</text>
<line x1="69.20" y1="668.20" x2="69.20" y2="672.70" stroke="#000" stroke-width="1.3"/>
<line x1="120.80" y1="668.20" x2="120.80" y2="672.70" stroke="#000" stroke-width="1.3"/>
<rect x="55.40" y="543.80" width="26.90" height="124.40" fill="#000"/>
<line x1="68.85" y1="539.50" x2="68.85" y2="544.30" stroke="#000" stroke-width="1.3"/>
<line x1="61.80" y1="539.50" x2="75.80" y2="539.50" stroke="#000" stroke-width="1.3"/>
<rect x="107.40" y="572.30" width="27.20" height="95.90" fill="#000"/>
<line x1="121.00" y1="567.90" x2="121.00" y2="572.80" stroke="#000" stroke-width="1.3"/>
<line x1="113.20" y1="567.90" x2="128.70" y2="567.90" stroke="#000" stroke-width="1.3"/>
<text x="94.50" y="518.20" font-size="11.5" text-anchor="middle">Total IgG</text>
<text x="13.30" y="601.35" font-size="11.1" text-anchor="middle" transform="rotate(-90 13.30 601.35)" letter-spacing="0.08">Anti-OVA titer</text>
<text x="73.00" y="682.70" font-size="11.3" text-anchor="end" transform="rotate(-45 73.00 682.70)">Wildtype</text>
<text x="126.00" y="680.30" font-size="11.3" text-anchor="end" transform="rotate(-45 126.00 680.30)">anti-asialo GM1</text>
<text x="120.50" y="566.20" font-size="13.5" text-anchor="middle">**</text>
<text x="180.70" y="509.60" font-size="18" text-anchor="start" font-weight="bold">G</text>
<line x1="222.30" y1="539.10" x2="222.30" y2="669.90" stroke="#000" stroke-width="1.3"/>
<line x1="221.70" y1="669.30" x2="324.00" y2="669.30" stroke="#000" stroke-width="1.3"/>
<line x1="218.50" y1="539.70" x2="222.30" y2="539.70" stroke="#000" stroke-width="1.3"/>
<text x="216.40" y="543.10" font-size="9.6" text-anchor="end">1000</text>
<line x1="218.50" y1="604.50" x2="222.30" y2="604.50" stroke="#000" stroke-width="1.3"/>
<text x="216.40" y="607.90" font-size="9.6" text-anchor="end">100</text>
<line x1="218.50" y1="669.30" x2="222.30" y2="669.30" stroke="#000" stroke-width="1.3"/>
<text x="216.40" y="672.70" font-size="9.6" text-anchor="end">10</text>
<line x1="247.50" y1="669.30" x2="247.50" y2="673.80" stroke="#000" stroke-width="1.3"/>
<line x1="298.50" y1="669.30" x2="298.50" y2="673.80" stroke="#000" stroke-width="1.3"/>
<rect x="234.30" y="558.30" width="26.10" height="111.00" fill="#000"/>
<line x1="247.35" y1="551.00" x2="247.35" y2="558.80" stroke="#000" stroke-width="1.3"/>
<line x1="240.00" y1="551.00" x2="254.60" y2="551.00" stroke="#000" stroke-width="1.3"/>
<rect x="285.60" y="590.60" width="26.20" height="78.70" fill="#000"/>
<line x1="298.70" y1="582.30" x2="298.70" y2="591.10" stroke="#000" stroke-width="1.3"/>
<line x1="291.30" y1="582.30" x2="306.00" y2="582.30" stroke="#000" stroke-width="1.3"/>
<text x="273.00" y="518.00" font-size="11.5" text-anchor="middle">IgG2c</text>
<text x="191.50" y="602.70" font-size="11.1" text-anchor="middle" transform="rotate(-90 191.50 602.70)" letter-spacing="0.08">Anti-OVA titer</text>
<text x="249.00" y="685.00" font-size="11.3" text-anchor="end" transform="rotate(-45 249.00 685.00)">Wildtype</text>
<text x="305.50" y="680.00" font-size="11.3" text-anchor="end" transform="rotate(-45 305.50 680.00)">anti-asialo GM1</text>
<text x="298.70" y="580.30" font-size="13.5" text-anchor="middle">*</text>
<text x="354.50" y="509.80" font-size="18" text-anchor="start" font-weight="bold">H</text>
<line x1="396.40" y1="538.50" x2="396.40" y2="668.80" stroke="#000" stroke-width="1.3"/>
<line x1="395.80" y1="668.20" x2="506.30" y2="668.20" stroke="#000" stroke-width="1.3"/>
<line x1="392.60" y1="539.10" x2="396.40" y2="539.10" stroke="#000" stroke-width="1.3"/>
<text x="390.50" y="542.50" font-size="9.6" text-anchor="end">1000</text>
<line x1="392.60" y1="603.65" x2="396.40" y2="603.65" stroke="#000" stroke-width="1.3"/>
<text x="390.50" y="607.05" font-size="9.6" text-anchor="end">100</text>
<line x1="392.60" y1="668.20" x2="396.40" y2="668.20" stroke="#000" stroke-width="1.3"/>
<text x="390.50" y="671.60" font-size="9.6" text-anchor="end">10</text>
<line x1="423.70" y1="668.20" x2="423.70" y2="672.70" stroke="#000" stroke-width="1.3"/>
<line x1="480.00" y1="668.20" x2="480.00" y2="672.70" stroke="#000" stroke-width="1.3"/>
<rect x="409.70" y="589.60" width="28.10" height="78.60" fill="#000"/>
<line x1="423.75" y1="581.50" x2="423.75" y2="590.10" stroke="#000" stroke-width="1.3"/>
<line x1="415.80" y1="581.50" x2="431.60" y2="581.50" stroke="#000" stroke-width="1.3"/>
<rect x="465.70" y="564.70" width="28.20" height="103.50" fill="#000"/>
<line x1="479.80" y1="557.30" x2="479.80" y2="565.20" stroke="#000" stroke-width="1.3"/>
<line x1="472.00" y1="557.30" x2="488.00" y2="557.30" stroke="#000" stroke-width="1.3"/>
<text x="452.00" y="518.80" font-size="11.5" text-anchor="middle">IgG1</text>
<text x="366.00" y="601.85" font-size="11.1" text-anchor="middle" transform="rotate(-90 366.00 601.85)" letter-spacing="0.08">Anti-OVA titer</text>
<text x="433.50" y="683.50" font-size="11.3" text-anchor="end" transform="rotate(-45 433.50 683.50)">Wildtype</text>
<text x="487.30" y="682.50" font-size="11.3" text-anchor="end" transform="rotate(-45 487.30 682.50)">anti-asialo GM1</text>
</svg>
</body></html>
